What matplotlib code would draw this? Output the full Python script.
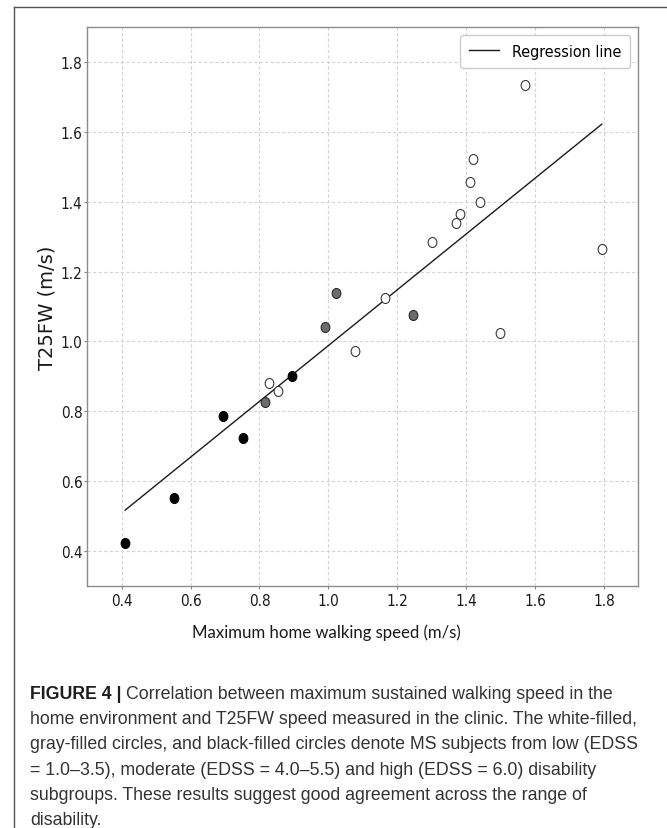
import matplotlib
matplotlib.use("Agg")
import matplotlib.pyplot as plt
import numpy as np
from matplotlib.path import Path
from matplotlib.lines import Line2D

# ---- data ----
low_x = [1.572, 1.420, 1.410, 1.439, 1.381, 1.372, 1.300, 1.794, 1.165, 1.498, 1.078, 0.828, 0.855]
low_y = [1.734, 1.522, 1.458, 1.400, 1.364, 1.339, 1.284, 1.264, 1.123, 1.024, 0.972, 0.880, 0.858]
mod_x = [1.021, 0.991, 1.247, 0.815]
mod_y = [1.139, 1.040, 1.075, 0.825]
high_x = [0.894, 0.693, 0.753, 0.553, 0.410]
high_y = [0.901, 0.785, 0.724, 0.550, 0.421]
reg_slope = 0.799
reg_intercept = 0.189
x_ticks = [0.4, 0.6, 0.8, 1.0, 1.2, 1.4, 1.6, 1.8]
y_ticks = [0.4, 0.6, 0.8, 1.0, 1.2, 1.4, 1.6, 1.8]

W, H = 667, 829
fig = plt.figure(figsize=(W / 100, H / 100), dpi=100)
fig.patch.set_facecolor('white')

ax = fig.add_axes([87.3 / W, 1 - 586.7 / H, (638.3 - 87.3) / W, (586.7 - 28.3) / H])

# elliptical marker (the reference image is horizontally squeezed)
circ = Path.unit_circle()
ell = Path(circ.vertices * np.array([0.87, 1.0]), circ.codes)

ax.grid(True, color='#d4d4d4', linestyle=(0, (3, 2)), linewidth=0.8)
ax.set_axisbelow(True)

all_x = low_x + mod_x + high_x
lx = np.array([min(all_x), max(all_x)])
ax.plot(lx, reg_intercept + reg_slope * lx, color='#1a1a1a', linewidth=1.0,
        label='Regression line', zorder=2)

ax.scatter(low_x, low_y, s=52, marker=ell, facecolor='white', edgecolor='#3a3a3a',
           linewidth=0.8, zorder=3)
ax.scatter(mod_x, mod_y, s=52, marker=ell, facecolor='#6c6c6c', edgecolor='#2a2a2a',
           linewidth=0.8, zorder=3)
ax.scatter(high_x, high_y, s=52, marker=ell, facecolor='black', edgecolor='black',
           linewidth=0.8, zorder=3)

ax.set_xlim(0.3, 1.9)
ax.set_ylim(0.3, 1.9)
ax.set_xticks(x_ticks)
ax.set_yticks(y_ticks)
ax.set_xticklabels([f"{v:.1f}" for v in x_ticks])
ax.set_yticklabels([f"{v:.1f}" for v in y_ticks])

for lab in ax.get_xticklabels() + ax.get_yticklabels():
    lab.set_fontfamily('DejaVu Sans')
    lab.set_fontstretch('condensed')
    lab.set_fontsize(11)
    lab.set_color('#1a1a1a')
ax.tick_params(axis='y', length=2.5, width=0.8, pad=1.0, color='#888888')
ax.tick_params(axis='x', length=2.5, width=0.8, pad=2.5, color='#888888')
for sp in ax.spines.values():
    sp.set_color('#8c8c8c')
    sp.set_linewidth(1.0)

ax.set_ylabel('T25FW (m/s)', fontsize=14, family='DejaVu Sans', color='#1a1a1a', labelpad=3)

leg = ax.legend(loc='upper right',
                prop=dict(family='DejaVu Sans', stretch='condensed', size=11.5),
                frameon=True, fancybox=True, edgecolor='#cccccc', framealpha=1.0,
                borderpad=0.55, handlelength=1.9)

fig.text(191.7 / W, 1 - 638 / H, 'Maximum home walking speed (m/s)', fontsize=12.1,
         family='Lato', color='#1a1a1a', va='baseline', ha='left')

# outer border
fig.add_artist(Line2D([14 / W, 1.0], [1 - 8.3 / H, 1 - 8.3 / H], transform=fig.transFigure,
                      color='#555555', linewidth=1.0))
fig.add_artist(Line2D([14 / W, 14 / W], [1 - 8.3 / H, 0.0], transform=fig.transFigure,
                      color='#555555', linewidth=1.0))

# caption
cap_family = 'Liberation Sans'
cap_size = 12.8
line_gap = 25.2
base0 = 699.0
x0 = 30 / W
lines = [
    'Correlation between maximum sustained walking speed in the',
    'home environment and T25FW speed measured in the clinic. The white-filled,',
    'gray-filled circles, and black-filled circles denote MS subjects from low (EDSS',
    '= 1.0\u20133.5), moderate (EDSS = 4.0\u20135.5) and high (EDSS = 6.0) disability',
    'subgroups. These results suggest good agreement across the range of',
    'disability.',
]
bold = fig.text(x0, 1 - base0 / H, 'FIGURE 4 | ', fontsize=cap_size, family=cap_family,
                fontweight='bold', color='#1e1e1e', va='baseline', ha='left')
fig.text(0, 0, '', fontsize=1)
ax.annotate(lines[0], xy=(1, 0), xycoords=bold, va='bottom', ha='left',
            fontsize=cap_size, family=cap_family, color='#333333', annotation_clip=False)
for i, ln in enumerate(lines[1:], start=1):
    fig.text(x0, 1 - (base0 + i * line_gap) / H, ln, fontsize=cap_size, family=cap_family,
             color='#333333', va='baseline', ha='left')

fig.savefig('out.png', dpi=100)
